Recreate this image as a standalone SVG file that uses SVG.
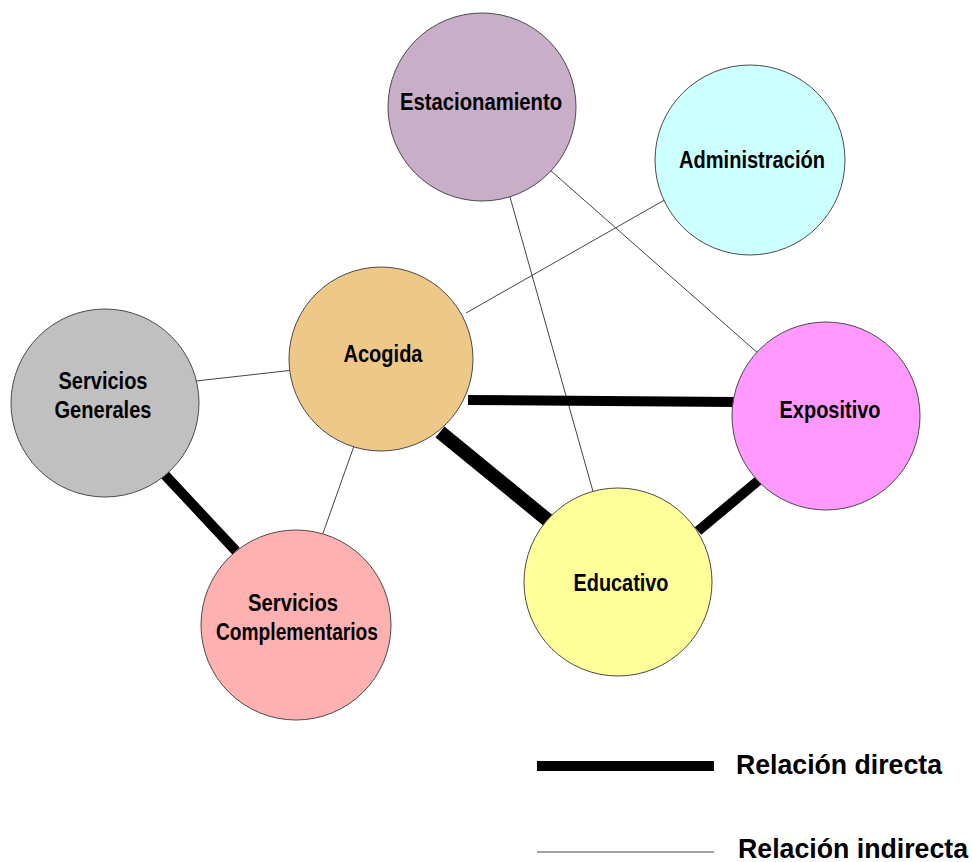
<svg xmlns="http://www.w3.org/2000/svg" width="972" height="862" viewBox="0 0 972 862">
  <style>
    .node { stroke: #4a4a4a; stroke-width: 1; }
    .label { font-family: "Liberation Sans", Arial, sans-serif; font-weight: bold; font-size: 23px; fill: #000; text-anchor: middle; }
    .legend { font-family: "Liberation Sans", Arial, sans-serif; font-weight: bold; font-size: 28px; fill: #000; }
    .direct { stroke: #000; stroke-width: 10; }
    .indirect { stroke: #444; stroke-width: 1; }
  </style>
  <rect width="972" height="862" fill="#fff"/>

  <!-- connectors -->
  <g id="connectors">
    <line class="indirect" x1="508" y1="190" x2="594" y2="495"/>
    <line class="indirect" x1="550" y1="170" x2="760" y2="355"/>
    <line class="indirect" x1="668" y1="198" x2="466" y2="313"/>
    <line class="indirect" x1="196" y1="381" x2="294" y2="370"/>
    <line class="indirect" x1="354" y1="446" x2="322" y2="536"/>
    <line class="direct" x1="468" y1="400" x2="736" y2="402"/>
    <line class="direct" x1="440" y1="432" x2="550" y2="522" style="stroke-width:14"/>
    <line class="direct" x1="759" y1="480" x2="698" y2="531"/>
    <line class="direct" x1="165" y1="475" x2="236" y2="551"/>
  </g>

  <g id="estacionamiento">
    <circle class="node" cx="482" cy="107" r="94" fill="#C8AEC8"/>
    <text class="label" x="481" y="110" textLength="162" lengthAdjust="spacingAndGlyphs">Estacionamiento</text>
  </g>

  <g id="administracion">
    <circle class="node" cx="750" cy="160" r="95" fill="#CCFFFF"/>
    <text class="label" x="752" y="168" textLength="146" lengthAdjust="spacingAndGlyphs">Administración</text>
  </g>

  <g id="acogida">
    <circle class="node" cx="381" cy="359" r="92" fill="#EEC887"/>
    <text class="label" x="383" y="362" textLength="79" lengthAdjust="spacingAndGlyphs">Acogida</text>
  </g>

  <g id="servicios-generales">
    <circle class="node" cx="105" cy="403" r="94" fill="#C0C0C0"/>
    <text class="label" x="103" y="389" textLength="89" lengthAdjust="spacingAndGlyphs">Servicios</text>
    <text class="label" x="103" y="418" textLength="97" lengthAdjust="spacingAndGlyphs">Generales</text>
  </g>

  <g id="expositivo">
    <circle class="node" cx="826" cy="416" r="94" fill="#FF99FF"/>
    <text class="label" x="830" y="418" textLength="101" lengthAdjust="spacingAndGlyphs">Expositivo</text>
  </g>

  <g id="educativo">
    <circle class="node" cx="618" cy="582" r="94" fill="#FFFF99"/>
    <text class="label" x="621" y="591" textLength="95" lengthAdjust="spacingAndGlyphs">Educativo</text>
  </g>

  <g id="servicios-complementarios">
    <circle class="node" cx="296" cy="625" r="95" fill="#FFB0B0"/>
    <text class="label" x="293" y="611" textLength="90" lengthAdjust="spacingAndGlyphs">Servicios</text>
    <text class="label" x="297" y="640" textLength="162" lengthAdjust="spacingAndGlyphs">Complementarios</text>
  </g>

  <!-- legend -->
  <g id="legend">
    <line class="direct" x1="537" y1="766" x2="714" y2="766"/>
    <text class="legend" x="736" y="774" textLength="206" lengthAdjust="spacingAndGlyphs">Relación directa</text>
    <line class="indirect" x1="537" y1="852" x2="714" y2="852"/>
    <text class="legend" x="738" y="858" textLength="230" lengthAdjust="spacingAndGlyphs">Relación indirecta</text>
  </g>
</svg>
